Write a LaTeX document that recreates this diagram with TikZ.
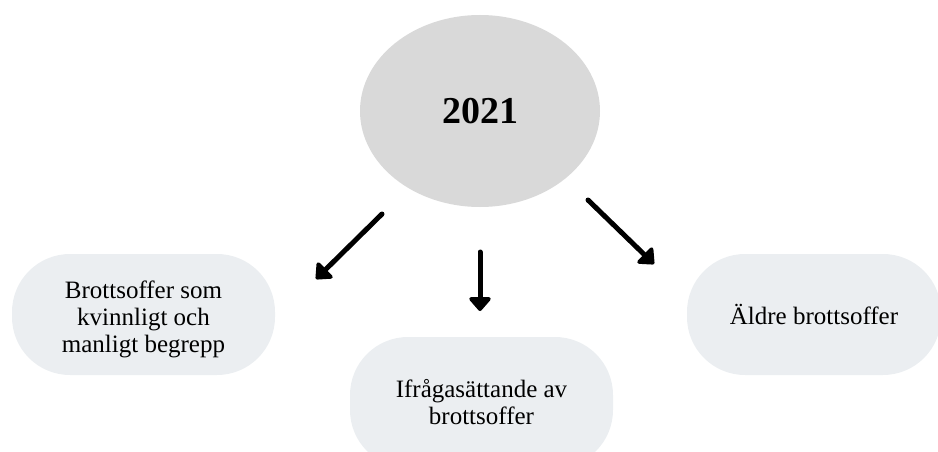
\documentclass[tikz,border=0pt]{standalone}
\usepackage{fontspec}
\setmainfont{Liberation Serif}
\usepackage{xcolor}
\usetikzlibrary{arrows.meta,shapes.geometric}
\definecolor{yeargray}{HTML}{D9D9D9}
\definecolor{boxgray}{HTML}{EBEEF1}
\tikzset{
  topic/.style={fill=boxgray,rounded corners=58pt,minimum width=263pt,minimum height=121pt,
    align=center,inner sep=0pt,font=\fontsize{25}{27}\selectfont},
  pointer/.style={line width=5pt,-{Triangle[length=15pt,width=25pt,round]},line cap=round}
}

\begin{document}
\begin{tikzpicture}[x=1pt,y=-1pt]
        \useasboundingbox (0,0) rectangle (938,452);
        \node[ellipse,fill=yeargray,minimum width=240pt,minimum height=192pt,
          font=\fontsize{38}{40}\selectfont\bfseries] (year) at (480,111) {2021};
        \node[topic] (victimterm) at (143.5,314.5) {};
        \node[topic,fill=none,minimum size=0pt] (victimtext) at ([yshift=-5pt]victimterm.center) {Brottsoffer som\\kvinnligt och\\manligt begrepp};
        \node[topic,minimum height=131pt] (questioning) at (481.5,402.5) {Ifrågasättande av\\brottsoffer};
        \node[topic,minimum width=254pt] (elderly) at (814,314.5) {Äldre brottsoffer};
        % arrow ends
        \coordinate (l1) at (382,214);
        \coordinate (l2) at (316,279);
        \coordinate (m1) at (480,252);
        \coordinate (m2) at (480,311);
        \coordinate (r1) at (588,200);
        \coordinate (r2) at (654,264);
        \draw[pointer] (l1)--(l2);
        \draw[pointer] (m1)--(m2);
        \draw[pointer] (r1)--(r2);
    \end{tikzpicture}
\end{document}
